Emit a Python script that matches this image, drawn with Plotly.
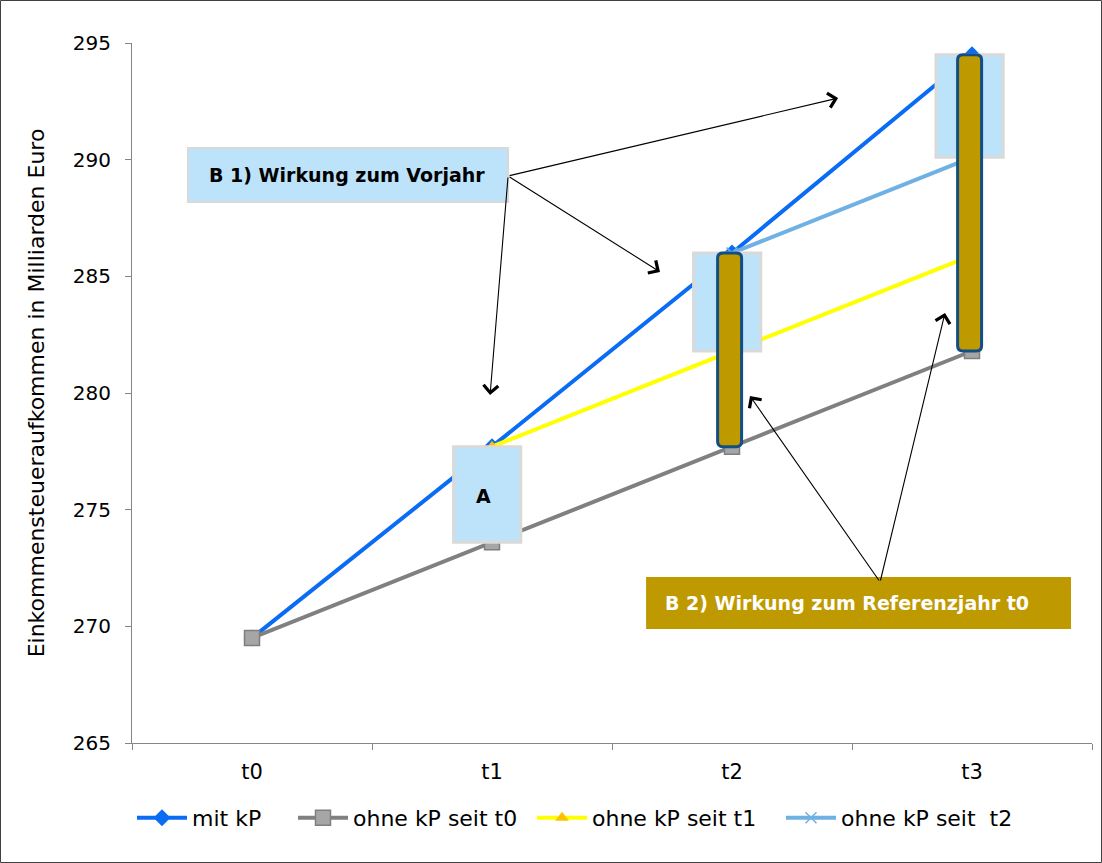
import plotly.graph_objects as go

# Periods and tax revenue series (billion euro)
periods = ["t0", "t1", "t2", "t3"]
mit_kp = [269.5, 277.7, 286.0, 294.5]
ohne_kp_t0 = [269.5, 273.6, 277.7, 281.8]
ohne_kp_t1 = [None, 277.7, 281.8, 285.9]
ohne_kp_t2 = [None, None, 286.0, 290.1]

names = ["mit kP", "ohne kP seit t0", "ohne kP seit t1", "ohne kP seit\u00a0 t2"]

FONT = "DejaVu Sans"
BLUE = "#0a6cf5"
GREY = "#808080"
YELLOW = "#ffff00"
LIGHTBLUE = "#6fb1e2"
BOX_FILL = "#bde3fa"
BOX_LINE = "#d9d9d9"
GOLD = "#bf9900"
BAR_LINE = "#124e86"

fig = go.Figure()

fig.add_trace(go.Scatter(
    x=periods, y=mit_kp, name=names[0], mode="lines+markers",
    line=dict(color=BLUE, width=4),
    marker=dict(symbol="diamond", size=13, color=BLUE),
    legend="legend"))
fig.add_trace(go.Scatter(
    x=periods, y=ohne_kp_t0, name=names[1], mode="lines+markers",
    line=dict(color=GREY, width=4),
    marker=dict(symbol="square", size=15, color="#a6a6a6",
                line=dict(color="#7f7f7f", width=1.5)),
    legend="legend2"))
fig.add_trace(go.Scatter(
    x=periods, y=ohne_kp_t1, name=names[2], mode="lines+markers",
    line=dict(color=YELLOW, width=4),
    marker=dict(symbol="triangle-up", size=12, color="#ffc000"),
    legend="legend3"))
fig.add_trace(go.Scatter(
    x=periods, y=ohne_kp_t2, name=names[3], mode="lines+markers",
    line=dict(color=LIGHTBLUE, width=4),
    marker=dict(symbol="x-thin", size=11, line=dict(color=LIGHTBLUE, width=1.5)),
    legend="legend4"))

shapes = []

# Light blue boxes: effect relative to the previous year
box_specs = [
    (1, -0.02, ohne_kp_t0[1], mit_kp[1]),
    (2, -0.02, ohne_kp_t1[2], mit_kp[2]),
    (3, -0.01, ohne_kp_t2[3], mit_kp[3]),
]
for idx, off, lo, hi in box_specs:
    c = idx + off
    shapes.append(dict(type="rect", xref="x", yref="y", layer="above",
                       x0=c - 0.14, x1=c + 0.14, y0=lo, y1=hi,
                       fillcolor=BOX_FILL, line=dict(color=BOX_LINE, width=3)))


def rounded_bar(cx, lo, hi, hw=0.05, rx=0.022, ry=0.22):
    x0, x1 = cx - hw, cx + hw
    return (f"M{x0 + rx},{lo} L{x1 - rx},{lo} Q{x1},{lo} {x1},{lo + ry} "
            f"L{x1},{hi - ry} Q{x1},{hi} {x1 - rx},{hi} L{x0 + rx},{hi} "
            f"Q{x0},{hi} {x0},{hi - ry} L{x0},{lo + ry} Q{x0},{lo} {x0 + rx},{lo} Z")


# Gold bars: effect relative to reference year t0
for idx in (2, 3):
    shapes.append(dict(type="path", xref="x", yref="y", layer="above",
                       path=rounded_bar(idx - 0.01, ohne_kp_t0[idx], mit_kp[idx]),
                       fillcolor=GOLD, line=dict(color=BAR_LINE, width=3)))

# Label boxes
shapes.append(dict(type="rect", xref="x", yref="y", layer="above",
                   x0=-0.267, x1=1.067, y0=288.19, y1=290.5,
                   fillcolor=BOX_FILL, line=dict(color=BOX_LINE, width=2)))
shapes.append(dict(type="rect", xref="x", yref="y", layer="above",
                   x0=1.642, x1=3.4125, y0=269.89, y1=272.11,
                   fillcolor=GOLD, line=dict(width=0)))

# Outer frame
shapes.append(dict(type="rect", xref="paper", yref="paper", layer="above",
                   x0=(0.5 - 132) / 960, x1=1 + 9.5 / 960,
                   y0=-(119.5) / 700, y1=1 + 42.5 / 700,
                   line=dict(color="#404040", width=1)))

annotations = [
    dict(x=0.395, y=289.35, xref="x", yref="y", text="<b>B 1) Wirkung zum Vorjahr</b>",
         showarrow=False, font=dict(family=FONT, size=19, color="black")),
    dict(x=0.965, y=275.6, xref="x", yref="y", text="<b>A</b>",
         showarrow=False, font=dict(family=FONT, size=19, color="black")),
    dict(x=1.7125, y=271.0, xref="x", yref="y", xanchor="left",
         text="<b>B 2) Wirkung zum Referenzjahr t0</b>",
         showarrow=False, font=dict(family=FONT, size=19, color="white")),
]

# Arrows: (head x, head y, tail x, tail y)
arrows = [
    (2.442, 292.64, 1.067, 289.3),
    (1.70, 285.19, 1.067, 289.3),
    (0.992, 279.91, 1.067, 289.3),
    (2.075, 279.87, 2.617, 271.9),
    (2.8875, 283.43, 2.617, 271.9),
]
for hx, hy, tx, ty in arrows:
    annotations.append(dict(x=hx, y=hy, ax=tx, ay=ty, xref="x", yref="y",
                            axref="x", ayref="y", text="", showarrow=True,
                            arrowhead=4, arrowsize=2.6, arrowwidth=1.1,
                            arrowcolor="black", standoff=0, startstandoff=0))

legend_common = dict(orientation="h", yanchor="middle", y=-0.107, xanchor="left",
                     font=dict(family=FONT, size=22, color="black"),
                     bgcolor="rgba(0,0,0,0)", itemwidth=50)

fig.update_layout(
    width=1102, height=863,
    margin=dict(l=132, r=10, t=43, b=120),
    paper_bgcolor="white", plot_bgcolor="white",
    font=dict(family=FONT, size=20, color="black"),
    showlegend=True,
    legend=dict(legend_common, x=(132 - 132) / 960),
    legend2=dict(legend_common, x=(293 - 132) / 960),
    legend3=dict(legend_common, x=(532 - 132) / 960),
    legend4=dict(legend_common, x=(781 - 132) / 960),
    xaxis=dict(type="category", categoryorder="array", categoryarray=periods,
               range=[-0.5, 3.5], tickson="boundaries", ticks="outside", ticklen=6,
               tickcolor="#868686", showline=True, linecolor="#868686", linewidth=1,
               showgrid=False, zeroline=False, ticklabelstandoff=10,
               tickfont=dict(family=FONT, size=21, color="black")),
    yaxis=dict(range=[265, 295], dtick=5, ticks="outside", ticklen=6,
               tickcolor="#868686", showline=True, linecolor="#868686", linewidth=1,
               showgrid=False, zeroline=False, ticklabelstandoff=10,
               tickfont=dict(family=FONT, size=20, color="black"),
               title=dict(text="Einkommensteueraufkommen in Milliarden Euro",
                          font=dict(family=FONT, size=22, color="black"), standoff=22)),
    shapes=shapes,
    annotations=annotations,
)

fig.write_html("out.html")
